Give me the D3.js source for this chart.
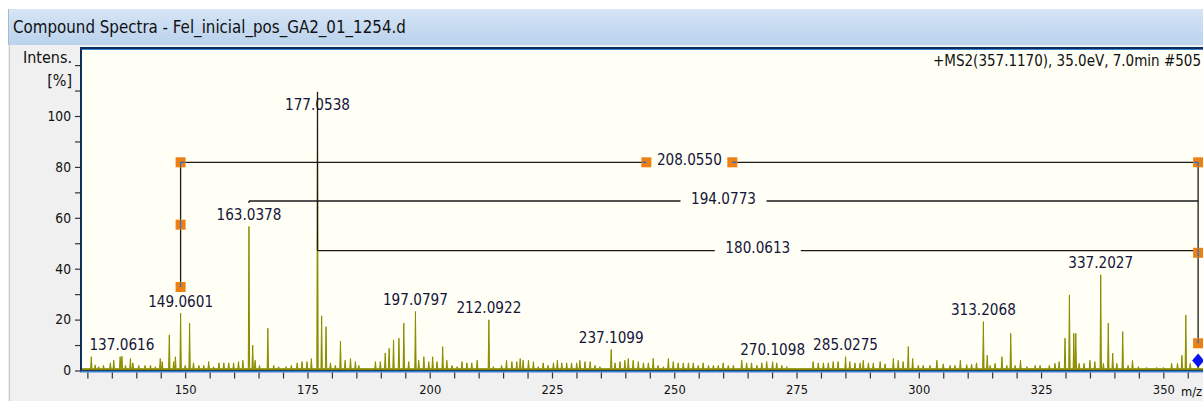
<!DOCTYPE html>
<html><head><meta charset="utf-8">
<script src="https://cdn.jsdelivr.net/npm/d3@7/dist/d3.min.js"></script>
<style>
html,body{margin:0;padding:0;background:#fff;overflow:hidden}
svg{display:block}
text{font-family:"DejaVu Sans Condensed","DejaVu Sans",sans-serif;font-stretch:condensed}
</style></head><body>
<svg id="chart" width="1203" height="401"></svg>
<script>
// ---------------- data ----------------
const titleText = "Compound Spectra - Fel_inicial_pos_GA2_01_1254.d";
const scanText = "+MS2(357.1170), 35.0eV, 7.0min #505";
const yAxisTitle = ["Intens.", "[%]"];
const xAxisTitle = "m/z";

const peakMz = [
 130.8,131.6,132.3,133.3,134.7,135.4,136.7,137.0616,137.8,138.8,139.3,140.5,141.8,142.9,143.9,144.9,145.3,
 146.75,147.65,148.0,149.0601,150.0,150.9,151.7,152.8,153.8,154.8,155.8,156.9,157.9,158.9,159.9,160.9,161.8,
 163.0378,163.8,164.3,165.2,166.9,168.1,169.1,170.6,171.7,172.9,173.9,174.9,175.8,177.0538,177.9,178.8,179.7,
 180.7,181.75,182.7,183.8,184.8,185.5,186.8,188.9,189.9,190.9,191.7,192.6,193.7,194.7,195.7,197.0797,197.75,
 198.8,199.8,200.6,201.5,202.65,203.5,204.55,205.6,206.6,207.6,208.6,209.7,212.0922,213.0,214.7,215.7,216.8,
 217.8,218.5,219.1,220.2,221.2,222.2,223.2,224.2,225.3,226.1,227.0,228.0,229.0,230.05,230.7,231.75,232.8,
 233.8,234.8,237.1099,237.9,238.9,239.9,240.6,241.6,242.65,243.7,244.7,245.7,246.7,247.8,248.8,249.8,250.8,
 251.85,252.9,253.9,254.9,255.9,257.0,258.0,259.0,260.0,261.05,262.1,263.8,264.8,265.8,266.9,267.9,268.9,
 270.1098,270.95,272.0,273.0,274.7,276.7,278.4,279.45,280.5,281.5,282.5,283.5,285.0275,285.9,286.95,288.0,
 288.65,289.7,290.7,292.1,293.1,294.8,295.8,296.8,297.85,298.75,299.9,300.9,302.3,303.7,305.0,306.4,307.4,
 308.5,309.8,310.8,311.8,313.2068,314.0,314.6,315.6,317.0,318.0,318.8,319.7,320.8,322.1,323.8,324.8,326.7,
 327.85,328.7,329.9,330.8,331.7,332.1,332.8,333.8,335.0,336.0,337.2027,337.75,338.75,339.65,340.5,341.7,
 342.8,343.7,344.9,346.6,348.65,350.0,351.7,352.9,353.8,354.6,355.5,357.117
];
const peakIntensity = [
 5.4,2.2,1.5,2,3,4,5.4,5.6,2,4.7,3,2,2,2,1.5,4.7,3.5,
 14,3.5,5.4,22.5,2,18.6,3,2,2,3.5,1.5,3,3,3,3,3.5,4,
 56.6,10,4,2,16.6,2,1.5,1.5,2,3,3.5,3.5,4.7,100,21.5,17.2,3,
 2,11.5,4,4.7,3.5,2,1,3.5,3.5,6.8,8.7,12,12.7,18.6,3.5,23.2,4,
 5.4,3.5,5.4,3.5,9.4,4,2,1.5,3.5,3,3,4,19.9,1.5,2,4,3.5,
 3.5,4.7,4,4,3.5,1.5,3,2,3,4,3,3,3,3,4,3.5,3.5,
 2,1.5,8.3,3,3.5,4,4.7,4,3.5,3,3,4.7,2,1.5,4.7,3.5,3,
 3,3,3,2,3,2,2,2,3,2,2,4,3,3,2,3,3.5,
 3.5,3,2,1.5,1,1,3.5,3,3,3,3.5,3.5,5.4,3.5,3,3,
 4,3,3,3.5,2.6,4.7,4,3.5,9.4,4.7,2,2,2,4,2.6,2,2,
 4,2.3,2.5,3,19.2,6,2,2.8,5.4,2,14.6,2,4,1.5,2,2,2,
 2.8,3.5,12.7,29.7,14.6,14.6,2.8,2.8,4,3.5,37.6,2.8,18.6,6.8,2.8,15.3,
 2,4,1.5,1.2,1.2,1.2,2.8,2.8,6,21.8,2.8,3
];
const labelMz = [137.0616,149.0601,163.0378,177.0538,197.0797,212.0922,237.1099,270.1098,285.0275,313.2068,337.2027];

const xTickValues = [150,175,200,225,250,275,300,325,350];
const yTickValues = [0,20,40,60,80,100];

const lossLabels = ["208.0550","194.0773","180.0613"];
const lossFromMz = [149.0601,163.0378,177.0538];
const lossLevel = [81.8,66.6,47.1];
const lossLeftEnd = [32.8,65.8,109.5];
const precursorMz = 357.1170;
const precursorLineEnd = 10.7;
const precursorMarker = 3.9;

// ---------------- layout ----------------
const W = 1203, H = 401;
const plot = {left: 81, top: 48, bottom: 371, right: 1240};
const svg = d3.select("#chart");

const x = d3.scaleLinear().domain([128.9, 362]).range([82, 1222]);
const y = d3.scaleLinear().domain([0, 100]).range([370.5, 116]);

function fitSize(str, target) {
  const t = svg.append("text").attr("font-size", 100).text(str);
  const w = t.node().getComputedTextLength();
  t.remove();
  return 100 * target / w;
}
const titleSize = fitSize(titleText, 393);
const scanSize = fitSize(scanText, 268);
const labelSize = fitSize("177.0538", 65);
const yTickSize = fitSize("100", 23.5);
const xTickSize = fitSize("150", 22);
const intensSize = fitSize("Intens.", 49);

const defs = svg.append("defs");
const grad = defs.append("linearGradient").attr("id","tb").attr("x1",0).attr("y1",0).attr("x2",0).attr("y2",1);
grad.append("stop").attr("offset","0%").attr("stop-color","#d6e5f5");
grad.append("stop").attr("offset","100%").attr("stop-color","#bad2ed");
defs.append("clipPath").attr("id","plotclip").append("rect")
  .attr("x", 82).attr("y", plot.top + 1).attr("width", 1200).attr("height", plot.bottom - plot.top - 1);

// backgrounds
svg.append("rect").attr("width", W).attr("height", H).attr("fill", "#ffffff");
svg.append("rect").attr("x", 8).attr("y", 45).attr("width", W).attr("height", H - 45).attr("fill", "#f0f0f0");
svg.append("line").attr("x1", 9.5).attr("x2", 9.5).attr("y1", 45).attr("y2", H).attr("stroke", "#c3ccd6");
svg.append("rect").attr("x", 8).attr("y", 9).attr("width", W).attr("height", 36).attr("fill", "url(#tb)");
svg.append("line").attr("x1", 8.5).attr("x2", 8.5).attr("y1", 9).attr("y2", 45).attr("stroke", "#aab8c8");
svg.append("text").attr("x", 13).attr("y", 33).attr("font-size", titleSize).attr("fill", "#111")
  .text(titleText);

// plot area
svg.append("rect").attr("x", plot.left).attr("y", plot.top).attr("width", plot.right - plot.left)
  .attr("height", plot.bottom - plot.top).attr("fill", "#fffff6");

// scan text
svg.append("text").attr("x", 1201).attr("y", 66).attr("text-anchor", "end").attr("font-size", scanSize)
  .attr("fill", "#111").text(scanText);

// spectrum profile
const base = 0.7, hw = 0.14;
const peaks = peakMz.map((m, i) => ({mz: m, v: peakIntensity[i]}));
const profile = [[x.domain()[0], base]];
peaks.forEach(p => { profile.push([p.mz - hw, base], [p.mz, p.v], [p.mz + hw, base]); });
profile.push([x.domain()[1], base]);
const area = d3.area().x(d => x(d[0])).y0(y(0)).y1(d => y(d[1]));
const g = svg.append("g").attr("clip-path", "url(#plotclip)");
g.append("path").datum(profile).attr("d", area).attr("fill", "#8c8c00")
  .attr("stroke", "#8c8c00").attr("stroke-width", 1).attr("stroke-linejoin", "miter");

// peak labels
g.selectAll("text.pl").data(labelMz).join("text").attr("class", "pl")
  .attr("x", m => x(m)).attr("y", m => y(peaks.find(p => p.mz === m).v) - 6.5)
  .attr("text-anchor", "middle").attr("font-size", labelSize).attr("fill", "#15153a")
  .text(m => m.toFixed(4));

// fragment loss annotations
const ann = svg.append("g").attr("clip-path", "url(#plotclip)");
const lineColor = "#1a1a1a";
const gapHalf = 43;
const xp = x(precursorMz);
ann.append("line").attr("x1", xp).attr("x2", xp).attr("y1", y(d3.max(lossLevel))).attr("y2", y(precursorLineEnd))
  .attr("stroke", lineColor).attr("stroke-width", 1.3);
lossLabels.forEach((lab, i) => {
  const xl = x(lossFromMz[i]);
  const yl = y(lossLevel[i]);
  const xm = (xl + xp) / 2;
  ann.append("line").attr("x1", xl).attr("x2", xl).attr("y1", yl).attr("y2", y(lossLeftEnd[i]))
    .attr("stroke", lineColor).attr("stroke-width", 1.3);
  ann.append("line").attr("x1", xl).attr("x2", xm - gapHalf).attr("y1", yl).attr("y2", yl)
    .attr("stroke", lineColor).attr("stroke-width", 1.3);
  ann.append("line").attr("x1", xm + gapHalf).attr("x2", xp).attr("y1", yl).attr("y2", yl)
    .attr("stroke", lineColor).attr("stroke-width", 1.3);
  ann.append("text").attr("x", xm).attr("y", yl + 2.5).attr("text-anchor", "middle")
    .attr("font-size", labelSize).attr("fill", "#15153a").text(lab);
});

// selection handles on the first annotation
const sel = 0;
const hxL = x(lossFromMz[sel]), hy = y(lossLevel[sel]);
const hxm = (hxL + xp) / 2;
const handles = [
  {x: hxL, y: hy, d: [[1,0],[0,1]]},
  {x: hxL, y: (hy + y(lossLeftEnd[sel])) / 2, d: [[0,-1],[0,1]]},
  {x: hxL, y: y(lossLeftEnd[sel]), d: [[0,-1]]},
  {x: hxm - gapHalf, y: hy, d: [[-1,0]]},
  {x: hxm + gapHalf, y: hy, d: [[1,0]]},
  {x: xp, y: hy, d: [[-1,0],[0,1]]},
  {x: xp, y: (hy + y(precursorLineEnd)) / 2, d: [[0,-1],[0,1]]},
  {x: xp, y: y(precursorLineEnd), d: [[0,-1]]}
];
handles.forEach(h => {
  ann.append("rect").attr("x", h.x - 5).attr("y", h.y - 5).attr("width", 10).attr("height", 10).attr("fill", "#ee7f12");
  h.d.forEach(dd => {
    ann.append("line").attr("x1", h.x).attr("y1", h.y).attr("x2", h.x + dd[0] * 4).attr("y2", h.y + dd[1] * 4)
      .attr("stroke", "#1f6fd8").attr("stroke-width", 1.3);
  });
});
const dY = y(precursorMarker);
ann.append("path").attr("d", `M${xp},${dY - 7}L${xp + 6},${dY}L${xp},${dY + 7}L${xp - 6},${dY}Z`).attr("fill", "#0a14f0");

// plot frame
svg.append("line").attr("x1", 81).attr("x2", 81).attr("y1", plot.top).attr("y2", plot.bottom + 1)
  .attr("stroke", "#0d2f5c").attr("stroke-width", 2);
svg.append("line").attr("x1", 80).attr("x2", W).attr("y1", plot.top).attr("y2", plot.top)
  .attr("stroke", "#0d2f5c").attr("stroke-width", 2);
svg.append("line").attr("x1", 82).attr("x2", W).attr("y1", plot.top + 1.5).attr("y2", plot.top + 1.5)
  .attr("stroke", "#3b7fd0").attr("stroke-width", 1);
svg.append("line").attr("x1", 80).attr("x2", W).attr("y1", 370.5).attr("y2", 370.5).attr("stroke", "#1b3d66").attr("stroke-width", 1);
svg.append("line").attr("x1", 80).attr("x2", W).attr("y1", 371.8).attr("y2", 371.8).attr("stroke", "#3b80d2").attr("stroke-width", 1.6);

// x axis
const xAxis = d3.axisBottom(x).tickValues(d3.range(130, 361, 5)).tickSize(6).tickPadding(6)
  .tickFormat(d => xTickValues.includes(d) ? d : "");
const gx = svg.append("g").attr("transform", "translate(0,372.5)").call(xAxis);
gx.select(".domain").remove();
gx.selectAll(".tick line").attr("stroke", "#333").attr("stroke-width", 1.2);
gx.selectAll(".tick text").attr("font-size", xTickSize).attr("fill", "#111").attr("font-family", null);
svg.append("text").attr("x", 1181).attr("y", 396).attr("font-size", xTickSize).attr("fill", "#111").text(xAxisTitle);

// y axis
const yAxis = d3.axisLeft(y).tickValues(d3.range(0, 121, 10)).tickSize(6).tickPadding(4)
  .tickFormat(d => yTickValues.includes(d) ? d : "");
const gy = svg.append("g").attr("transform", "translate(81,0)").call(yAxis);
gy.select(".domain").remove();
gy.selectAll(".tick line").attr("stroke", "#333").attr("stroke-width", 1.2);
gy.selectAll(".tick text").attr("font-size", yTickSize).attr("fill", "#111").attr("font-family", null);
svg.append("text").attr("x", 72).attr("y", 63).attr("text-anchor", "end").attr("font-size", intensSize).attr("fill", "#111").text(yAxisTitle[0]);
svg.append("text").attr("x", 72).attr("y", 86).attr("text-anchor", "end").attr("font-size", intensSize).attr("fill", "#111").text(yAxisTitle[1]);
</script>
</body></html>
